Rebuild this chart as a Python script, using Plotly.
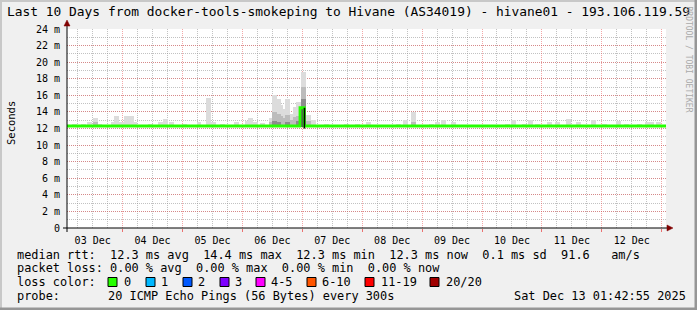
import plotly.graph_objects as go

# ---------------- data ----------------
start_time = "2025-12-03 01:42:55"
end_time = "2025-12-13 01:42:55"

# smoke (ping spread) - light layer tops in ms
smoke_time = [
    "2025-12-03 04:36", "2025-12-03 08:24", "2025-12-03 10:36", "2025-12-03 13:00", "2025-12-03 14:48",
    "2025-12-03 20:24", "2025-12-03 21:36", "2025-12-03 23:36", "2025-12-04 01:36", "2025-12-04 03:24",
    "2025-12-04 04:48", "2025-12-04 11:00", "2025-12-04 15:00", "2025-12-04 17:12", "2025-12-04 19:36",
    "2025-12-05 00:48", "2025-12-05 06:36", "2025-12-05 10:24", "2025-12-05 12:24", "2025-12-05 16:00",
    "2025-12-05 21:48", "2025-12-06 02:12", "2025-12-06 03:24", "2025-12-06 05:12", "2025-12-06 08:12",
    "2025-12-06 11:36", "2025-12-06 13:00", "2025-12-06 14:24", "2025-12-06 15:24", "2025-12-06 16:36",
    "2025-12-06 18:12", "2025-12-06 19:48", "2025-12-06 21:12", "2025-12-06 22:36", "2025-12-07 00:24",
    "2025-12-07 02:36", "2025-12-07 04:36", "2025-12-07 09:36", "2025-12-07 17:36", "2025-12-07 22:00",
    "2025-12-08 02:36", "2025-12-08 06:48", "2025-12-08 14:36", "2025-12-08 17:24", "2025-12-08 20:36",
    "2025-12-09 03:36", "2025-12-09 06:12", "2025-12-09 08:36", "2025-12-09 12:36", "2025-12-09 18:24",
    "2025-12-10 05:12", "2025-12-10 10:24", "2025-12-10 12:36", "2025-12-10 17:12", "2025-12-10 19:36",
    "2025-12-10 22:24", "2025-12-11 03:00", "2025-12-11 06:24", "2025-12-11 10:36", "2025-12-11 14:48",
    "2025-12-11 20:36", "2025-12-12 01:12", "2025-12-12 06:36", "2025-12-12 09:48", "2025-12-12 15:12",
    "2025-12-12 18:24", "2025-12-12 20:00", "2025-12-12 22:36",
]
smoke_top = [
    12.5, 12.5, 12.8, 13.3, 12.6,
    12.8, 13.5, 12.8, 13.5, 13.5,
    12.8, 12.5, 12.8, 13.2, 12.8,
    12.5, 12.8, 15.7, 12.8, 12.5,
    12.8, 12.9, 13.3, 12.8, 12.7,
    13.3, 16.0, 15.6, 14.8, 14.3,
    15.5, 13.7, 14.6, 15.2, 18.8,
    13.6, 13.0, 12.6, 12.6, 12.6,
    12.8, 12.4, 12.6, 13.0, 14.0,
    12.6, 12.8, 13.0, 12.8, 12.4,
    12.4, 12.6, 13.0, 12.6, 13.0,
    12.6, 12.8, 12.8, 13.1, 12.8,
    13.0, 12.6, 12.9, 12.6, 12.6,
    12.8, 12.8, 12.8,
]

# medium-grey smoke layer
mid_time = ["2025-12-03 13:00", "2025-12-06 11:36", "2025-12-06 13:00", "2025-12-06 14:24", "2025-12-06 15:24",
            "2025-12-06 16:36", "2025-12-06 18:12", "2025-12-06 19:48", "2025-12-06 21:12", "2025-12-06 22:36",
            "2025-12-07 00:24", "2025-12-07 02:36", "2025-12-08 20:36"]
mid_top = [12.8, 12.8, 14.0, 13.8, 13.5, 13.3, 13.6, 13.0, 13.4, 13.5, 17.0, 12.9, 12.8]

# dark smoke layer
dark_time = ["2025-12-06 13:00", "2025-12-06 14:24", "2025-12-06 18:12", "2025-12-06 22:36", "2025-12-07 00:24"]
dark_top = [12.9, 12.8, 12.8, 12.9, 15.6]

darkest_time = ["2025-12-07 00:24"]
darkest_top = [14.5]

smoke_base = 12.2

# median rtt line (ms)
median_time = [start_time, "2025-12-06 23:04", "2025-12-07 00:48", end_time]
median_val = [12.3, 14.5, 12.3, 12.3]

# black (unknown-colour) segment of the median line
gap_time = ["2025-12-07 00:50", "2025-12-07 00:50"]
gap_val = [14.5, 12.0]

y_ticks = [0, 2, 4, 6, 8, 10, 12, 14, 16, 18, 20, 22, 24]
y_labels = ["0"] + [f"{v} m" for v in y_ticks[1:]]

title = "Last 10 Days from docker-tools-smokeping to Hivane (AS34019) - hivane01 - 193.106.119.59"
legend_lines = [
    "median rtt:  12.3 ms avg  14.4 ms max  12.3 ms min  12.3 ms now  0.1 ms sd  91.6   am/s",
    "packet loss: 0.00 % avg  0.00 % max  0.00 % min  0.00 % now",
]
loss_labels = ["0", "1", "2", "3", "4-5", "6-10", "11-19", "20/20"]
loss_colors = ["#26ff00", "#00b8ff", "#0059ff", "#7e00ff", "#ff00ff", "#ff5500", "#ff0000", "#a10000"]
probe_text = "20 ICMP Echo Pings (56 Bytes) every 300s"
stamp_text = "Sat Dec 13 01:42:55 2025"

# ---------------- layout geometry ----------------
W, H = 697, 310
L, R, T, B = 67, 666, 29, 228
MONO = "DejaVu Sans Mono"


def px(x):
    return (x - L) / (R - L)


def py(y):
    return (B - y) / (B - T)


def nb(s):
    return s.replace(" ", "\u00a0")


fig = go.Figure()

BARW = 2 * 3600 * 1000
for times, tops, col in [(smoke_time, smoke_top, "#dcdcdc"),
                         (mid_time, mid_top, "#bcbcbc"),
                         (dark_time, dark_top, "#8c8c8c"),
                         (darkest_time, darkest_top, "#555555")]:
    fig.add_trace(go.Bar(x=times, y=[t - smoke_base for t in tops], base=smoke_base,
                         width=BARW, marker=dict(color=col, line_width=0),
                         hoverinfo="skip"))

fig.add_trace(go.Scatter(x=median_time, y=median_val, mode="lines",
                         line=dict(color="#26ff00", width=2.8, shape="hv"), hoverinfo="skip"))
fig.add_trace(go.Scatter(x=gap_time, y=gap_val, mode="lines",
                         line=dict(color="#000000", width=1.5), hoverinfo="skip"))

mgrid = "rgba(232,80,80,0.5)"
grid = "rgba(143,143,143,0.55)"

fig.update_layout(
    width=W, height=H,
    margin=dict(l=L, r=W - R, t=T, b=H - B, pad=0),
    paper_bgcolor="#f0f0f0", plot_bgcolor="#ffffff",
    showlegend=False, barmode="overlay", bargap=0,
    font=dict(family=MONO, size=10, color="#000000"),
    xaxis=dict(
        type="date", range=[start_time, end_time],
        tick0="2025-12-03", dtick=86400000, tickformat="%d %b", ticklabelmode="period",
        showgrid=True, gridcolor=mgrid, gridwidth=1, griddash="1px,1px",
        minor=dict(tick0="2025-12-03", dtick=21600000, showgrid=True, gridcolor=grid,
                   griddash="1px,1px", gridwidth=1),
        ticks="outside", ticklen=3, tickcolor="rgba(232,80,80,0.8)",
        showline=False, zeroline=False,
        tickfont=dict(family=MONO, size=10, color="#000000"),
    ),
    yaxis=dict(
        range=[0, 24], tickmode="array", tickvals=y_ticks, ticktext=y_labels,
        showgrid=True, gridcolor=mgrid, gridwidth=1, griddash="1px,1px",
        minor=dict(dtick=1, showgrid=True, gridcolor=grid, griddash="1px,1px", gridwidth=1),
        ticks="", showline=False, zeroline=False, ticklabelstandoff=6,
        tickfont=dict(family=MONO, size=10, color="#000000"),
    ),
)

shapes = []
# axes lines
shapes.append(dict(type="line", xref="paper", yref="paper", x0=px(63), x1=px(668), y0=py(228), y1=py(228),
                   line=dict(color="#000000", width=1)))
shapes.append(dict(type="line", xref="paper", yref="paper", x0=px(67), x1=px(67), y0=py(232), y1=py(24),
                   line=dict(color="#000000", width=1)))
# arrows
shapes.append(dict(type="path", xref="paper", yref="paper",
                   path=f"M {px(67)} {py(20)} L {px(64)} {py(26)} L {px(70)} {py(26)} Z",
                   fillcolor="#800000", line=dict(color="#800000", width=0.5)))
shapes.append(dict(type="path", xref="paper", yref="paper",
                   path=f"M {px(673)} {py(228)} L {px(667)} {py(225)} L {px(667)} {py(231)} Z",
                   fillcolor="#800000", line=dict(color="#800000", width=0.5)))
# frame borders
shapes.append(dict(type="rect", xref="paper", yref="paper", x0=px(0), x1=px(697), y0=py(0), y1=py(2),
                   fillcolor="#c8c8c8", line_width=0))
shapes.append(dict(type="rect", xref="paper", yref="paper", x0=px(0), x1=px(2), y0=py(0), y1=py(310),
                   fillcolor="#c8c8c8", line_width=0))
shapes.append(dict(type="rect", xref="paper", yref="paper", x0=px(0), x1=px(697), y0=py(307.5), y1=py(310),
                   fillcolor="#969696", line_width=0))
shapes.append(dict(type="rect", xref="paper", yref="paper", x0=px(694.5), x1=px(697), y0=py(0), y1=py(310),
                   fillcolor="#969696", line_width=0))

# loss colour swatches
sw_x = [108, 146, 183, 220, 256, 307, 365, 430]
lab_x = [123, 160, 197, 234, 270, 321, 380, 445]
for xs, col in zip(sw_x, loss_colors):
    shapes.append(dict(type="rect", xref="paper", yref="paper", x0=px(xs), x1=px(xs + 9),
                       y0=py(277.5), y1=py(286.5), fillcolor=col, line=dict(color="#000000", width=1)))
fig.update_layout(shapes=shapes)

ann = []
ann.append(dict(text=nb(title), x=px(348.5), y=py(11), xref="paper", yref="paper", showarrow=False,
                xanchor="center", yanchor="middle", font=dict(family=MONO, size=12.9, color="#000000")))
ann.append(dict(text="Seconds", x=px(11), y=py(123), xref="paper", yref="paper", showarrow=False,
                textangle=-90, xanchor="center", yanchor="middle", font=dict(family=MONO, size=10.5)))
ann.append(dict(text=nb("RRDTOOL / TOBI OETIKER"), x=px(688.5), y=py(59), xref="paper", yref="paper",
                showarrow=False, textangle=90, xanchor="center", yanchor="middle",
                font=dict(family=MONO, size=8, color="#aaaaaa")))
leg_font = dict(family=MONO, size=11.9, color="#000000")
for i, line in enumerate(legend_lines):
    ann.append(dict(text=nb(line), x=px(16), y=py([254.5, 268][i]), xref="paper", yref="paper",
                    showarrow=False, xanchor="left", yanchor="middle", font=leg_font))
ann.append(dict(text=nb("loss color:"), x=px(16), y=py(282), xref="paper", yref="paper",
                showarrow=False, xanchor="left", yanchor="middle", font=leg_font))
for xl, lab in zip(lab_x, loss_labels):
    ann.append(dict(text=lab, x=px(xl), y=py(282), xref="paper", yref="paper",
                    showarrow=False, xanchor="left", yanchor="middle", font=leg_font))
ann.append(dict(text=nb("probe:"), x=px(16), y=py(296), xref="paper", yref="paper",
                showarrow=False, xanchor="left", yanchor="middle", font=leg_font))
ann.append(dict(text=nb(probe_text), x=px(107), y=py(296), xref="paper", yref="paper",
                showarrow=False, xanchor="left", yanchor="middle", font=leg_font))
ann.append(dict(text=nb(stamp_text), x=px(513), y=py(296), xref="paper", yref="paper",
                showarrow=False, xanchor="left", yanchor="middle", font=leg_font))
for a in ann:
    a["borderpad"] = 0
fig.update_layout(annotations=ann)

fig.write_html("out.html", config={"displayModeBar": False, "staticPlot": True})
